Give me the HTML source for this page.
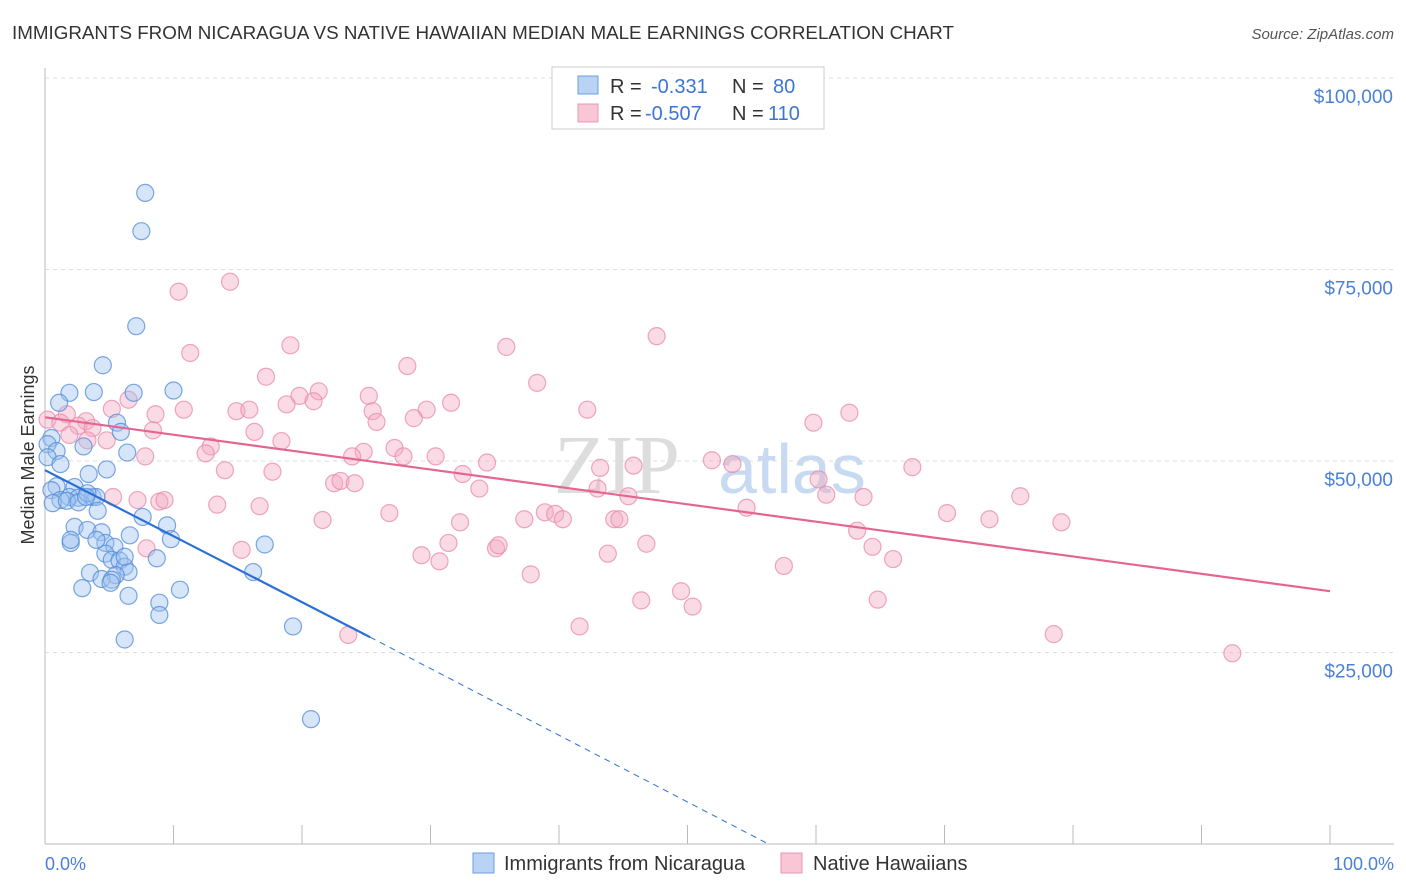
<!DOCTYPE html>
<html><head><meta charset="utf-8"><style>
body{margin:0;background:#fff;font-family:"Liberation Sans",sans-serif;}
svg{display:block}
</style></head><body>
<svg id="c" width="1406" height="892">
<text x="12" y="39" font-size="18.8" fill="#333">IMMIGRANTS FROM NICARAGUA VS NATIVE HAWAIIAN MEDIAN MALE EARNINGS CORRELATION CHART</text>
<text x="1394" y="39" font-size="15" fill="#555" font-style="italic" text-anchor="end">Source: ZipAtlas.com</text>
<text x="554" y="493" font-size="84" fill="#ddd" font-family="Liberation Serif,serif">ZIP</text>
<text x="718" y="493" font-size="70" fill="#c8daf2">atlas</text>
<g id="grid"></g>
<g id="axes"></g>
<g id="pts"></g>
<g id="lines"></g>
<text transform="translate(34,455) rotate(-90)" font-size="18" fill="#333" text-anchor="middle">Median Male Earnings</text>
<text x="45" y="870" font-size="18" fill="#4a80d8">0.0%</text>
<text x="1394" y="870" font-size="18" fill="#4a80d8" text-anchor="end">100.0%</text>
<g>
<rect x="552" y="67" width="272" height="62" fill="#fff" stroke="#ccc"/>
<rect x="578" y="76" width="20" height="18" fill="#b9d3f5" stroke="#6c9de0"/>
<rect x="578" y="104" width="20" height="18" fill="#f8c6d4" stroke="#e897b0"/>
<text x="610" y="93" font-size="20" fill="#333">R = <tspan x="651" fill="#3b76d6">-0.331</tspan><tspan x="732">N = </tspan><tspan x="773" fill="#3b76d6">80</tspan></text>
<text x="610" y="120" font-size="20" fill="#333">R = <tspan x="645" fill="#3b76d6">-0.507</tspan><tspan x="732">N = </tspan><tspan x="768" fill="#3b76d6">110</tspan></text>
</g>
<g>
<rect x="473" y="853" width="21" height="20" fill="#b9d3f5" stroke="#6c9de0"/>
<text x="504" y="870" font-size="20" fill="#333">Immigrants from Nicaragua</text>
<rect x="781" y="853" width="21" height="20" fill="#f8c6d4" stroke="#e897b0"/>
<text x="813" y="870" font-size="20" fill="#333">Native Hawaiians</text>
</g>
</svg>
<script>
const yTicks=[25000,50000,75000,100000];
const yTickLabels=["$25,000","$50,000","$75,000","$100,000"];
const blueX=[7.8,7.5,7.1,4.5,1.9,3.8,10.0,6.9,1.1,5.6,5.9,0.5,0.2,3.0,0.9,6.4,0.2,1.2,4.8,3.4,0.9,2.3,0.5,1.9,2.6,3.7,4.0,1.2,0.6,1.7,2.6,3.3,4.1,7.6,2.3,9.5,3.3,4.4,6.6,9.8,2.0,4.7,5.4,17.1,8.7,4.7,5.2,5.8,6.2,6.5,3.5,5.5,4.4,16.2,5.2,2.9,10.5,5.1,6.5,8.9,8.9,6.2,19.3,20.7,2.0,6.2,4.0,3.2];
const blueY=[85.0,80.0,67.6,62.5,58.9,59.0,59.2,58.9,57.6,55.0,53.8,53.0,52.2,51.9,51.3,51.1,50.5,49.6,48.9,48.3,46.7,46.6,46.2,45.3,45.2,45.3,45.3,44.9,44.5,44.8,44.6,45.8,43.5,42.7,41.4,41.6,41.0,40.7,40.3,39.8,39.3,39.3,38.8,39.1,37.3,37.9,37.1,37.0,36.2,35.5,35.4,35.1,34.6,35.5,34.5,33.4,33.2,34.1,32.4,31.5,29.9,26.7,28.4,16.3,39.7,37.5,39.7,45.3];
const pinkX=[14.4,10.4,11.3,19.1,47.6,35.9,28.2,17.2,38.3,19.8,6.5,21.3,20.9,25.2,31.6,29.7,25.5,5.2,10.8,1.7,8.6,3.2,2.6,14.9,15.9,18.8,62.6,59.8,42.2,8.4,25.8,28.7,0.2,1.2,1.9,3.7,4.8,3.3,16.3,18.4,12.9,7.8,12.5,27.2,24.8,27.9,30.4,34.4,23.9,43.2,45.8,51.9,53.5,67.5,14.0,17.7,32.5,33.8,22.5,23.0,24.1,43.0,45.4,5.3,7.2,8.9,9.3,60.2,60.8,63.7,75.9,13.4,16.7,54.6,26.8,70.2,38.9,39.7,40.3,37.3,44.3,44.7,32.3,21.6,73.5,79.1,63.2,64.4,15.3,7.9,35.1,35.3,31.4,29.3,30.7,43.8,46.8,66.0,57.5,37.8,49.5,46.4,64.8,50.4,41.6,23.6,78.5,92.4];
const pinkY=[73.4,72.1,64.1,65.1,66.3,64.9,62.4,61.0,60.2,58.5,58.0,59.1,57.8,58.5,57.6,56.7,56.5,56.8,56.7,56.1,56.1,55.2,54.6,56.5,56.7,57.4,56.3,55.0,56.7,54.0,55.1,55.6,55.4,55.0,53.4,54.3,52.7,52.7,53.8,52.6,51.9,50.6,51.0,51.7,51.2,50.6,50.6,49.8,50.6,49.1,49.4,50.1,49.6,49.2,48.8,48.6,48.3,46.4,47.1,47.4,47.1,46.4,45.4,45.3,44.9,44.7,44.9,47.6,45.6,45.3,45.4,44.3,44.1,43.9,43.2,43.2,43.3,43.1,42.4,42.4,42.4,42.4,42.0,42.3,42.4,42.0,40.9,38.8,38.4,38.6,38.6,39.0,39.3,37.7,36.9,37.9,39.2,37.2,36.3,35.2,33.0,31.8,31.9,31.0,28.4,27.3,27.4,24.9];
const blueTrend=[[0,48800],[25.3,27000],[56.3,0]];
const pinkTrend=[[0,55700],[100,33000]];
const X0=45,X1=1330,Y0=844,PXK=191.5/25000;
const sx=v=>X0+(X1-X0)*v/100, sy=v=>Y0-v*PXK;
const NS="http://www.w3.org/2000/svg";
function mk(t,a,p){const e=document.createElementNS(NS,t);for(const k in a)e.setAttribute(k,a[k]);p.appendChild(e);return e;}
const gridG=document.getElementById('grid'),axesG=document.getElementById('axes'),ptsG=document.getElementById('pts'),linesG=document.getElementById('lines');
yTicks.forEach((v,i)=>{
 const l=mk('line',{x1:X0,x2:1394,y1:sy(v),y2:sy(v),stroke:'#ddd','stroke-dasharray':'4,4'},gridG);
 
 
 const t=mk('text',{x:1393,y:sy(v)+25,'font-size':19,fill:'#4a80d8','text-anchor':'end'},gridG);
 t.textContent=yTickLabels[i];
 
 
});
const ya=mk('line',{x1:X0,x2:X0,y1:68,y2:Y0,stroke:'#bbb'},axesG);


const xa=mk('line',{x1:X0,x2:1394,y1:Y0,y2:Y0,stroke:'#bbb'},axesG);


for(let i=0;i<=10;i++){
 const t=mk('line',{x1:sx(i*10),x2:sx(i*10),y1:Y0-19,y2:Y0,stroke:'#bbb'},axesG);
 
 
}
function dots(xs,ys,fill,stroke,name){
 xs.forEach((x,i)=>{
  const c=mk('circle',{cx:sx(x),cy:sy(ys[i]*1000),r:8.5,fill:fill,'fill-opacity':0.42,stroke:stroke,'stroke-opacity':0.75,'stroke-width':1.2},ptsG);
  
  
 });
}
dots(pinkX,pinkY,'#f4aac0','#e88aa8','hawaiian-point');
dots(blueX,blueY,'#9dc0ee','#4f8ada','nicaragua-point');
const b1=mk('line',{x1:sx(blueTrend[0][0]),y1:sy(blueTrend[0][1]),x2:sx(blueTrend[1][0]),y2:sy(blueTrend[1][1]),stroke:'#2a6fd6','stroke-width':2.2},linesG);


const b2=mk('line',{x1:sx(blueTrend[1][0]),y1:sy(blueTrend[1][1]),x2:sx(blueTrend[2][0]),y2:sy(blueTrend[2][1]),stroke:'#2a6fd6','stroke-width':1,'stroke-dasharray':'6,5'},linesG);


const p1=mk('line',{x1:sx(pinkTrend[0][0]),y1:sy(pinkTrend[0][1]),x2:sx(pinkTrend[1][0]),y2:sy(pinkTrend[1][1]),stroke:'#e56592','stroke-width':2.2},linesG);


</script>
</body></html>
